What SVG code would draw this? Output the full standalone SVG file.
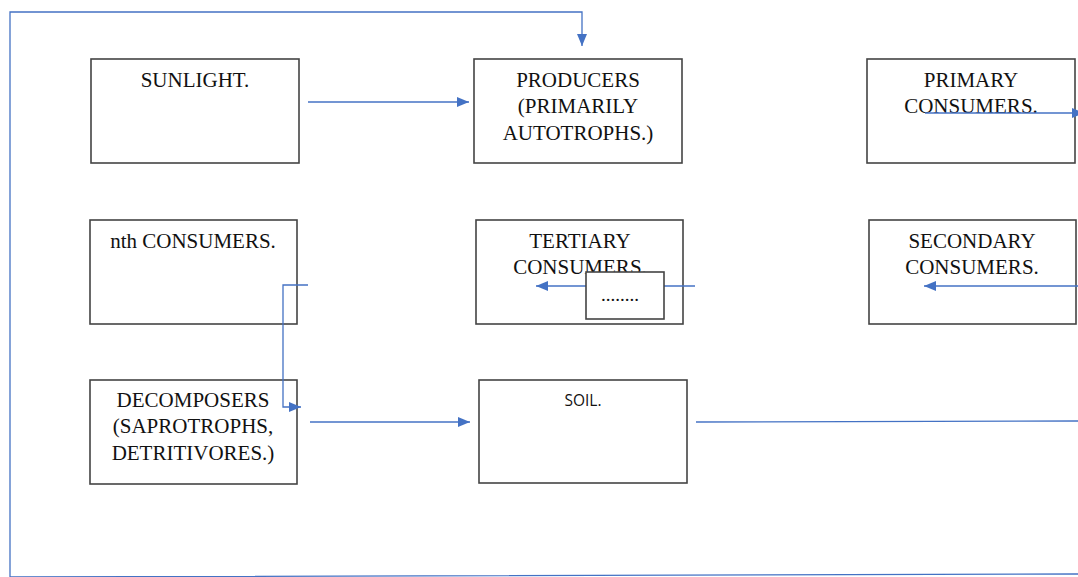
<svg xmlns="http://www.w3.org/2000/svg" width="1078" height="577" viewBox="0 0 1078 577">
<style>
.box{fill:#fff;stroke:#444;stroke-width:1.6}
.t{font-family:"Liberation Serif","Times New Roman",serif;font-size:21px;fill:#111;text-anchor:middle}
.s{font-family:"Open Sans","Liberation Sans",sans-serif;font-size:15.5px;fill:#111;text-anchor:middle}
.d{font-family:"Liberation Serif","Times New Roman",serif;font-size:19px;fill:#111;text-anchor:middle}
.c{fill:none;stroke:#4472C4;stroke-width:1.3}
</style>
<defs>
<marker id="a" markerWidth="12" markerHeight="10" refX="12" refY="5" orient="auto" markerUnits="userSpaceOnUse">
<path d="M0,0 L12,5 L0,10 Z" fill="#4472C4"/>
</marker>
</defs>
<g id="sunlight"><rect class="box" x="91" y="59" width="208" height="104"/><text class="t" x="195" y="87">SUNLIGHT.</text></g>
<g id="producers"><rect class="box" x="474" y="59" width="208" height="104"/><text class="t" x="578" y="87">PRODUCERS</text><text class="t" x="578" y="113">(PRIMARILY</text><text class="t" x="578" y="140">AUTOTROPHS.)</text></g>
<g id="primary"><rect class="box" x="867" y="59" width="208" height="104"/><text class="t" x="971" y="87">PRIMARY</text><text class="t" x="971" y="113">CONSUMERS.</text></g>
<g id="nth"><rect class="box" x="90" y="220" width="207" height="104"/><text class="t" x="193" y="248">nth CONSUMERS.</text></g>
<g id="tertiary"><rect class="box" x="476" y="220" width="207" height="104"/><text class="t" x="580" y="248">TERTIARY</text><text class="t" x="580" y="274">CONSUMERS.</text></g>
<g id="secondary"><rect class="box" x="869" y="220" width="207" height="104"/><text class="t" x="972" y="248">SECONDARY</text><text class="t" x="972" y="274">CONSUMERS.</text></g>
<g id="decomposers"><rect class="box" x="90" y="380" width="207" height="104"/><text class="t" x="193" y="407">DECOMPOSERS</text><text class="t" x="193" y="433">(SAPROTROPHS,</text><text class="t" x="193" y="460">DETRITIVORES.)</text></g>
<g id="soil"><rect class="box" x="479" y="380" width="208" height="103"/><text class="s" x="583" y="406">SOIL.</text></g>
<g id="connectors">
<path class="c" d="M308,102 H469" marker-end="url(#a)"/>
<path class="c" d="M925,113 H1084" marker-end="url(#a)"/>
<path class="c" d="M1078,286 H924" marker-end="url(#a)"/>
<path class="c" d="M695,286 H536" marker-end="url(#a)"/>
<path class="c" d="M308,285 H283 V407 H301" marker-end="url(#a)"/>
<path class="c" d="M310,422 H470" marker-end="url(#a)"/>
<path class="c" d="M696,422 L1078,421"/>
<path class="c" d="M1078,574 L10,577 V12 H582 V46" marker-end="url(#a)"/>
</g>
<g id="dots"><rect class="box" x="586" y="272" width="78" height="47"/><text class="d" x="620" y="301">........</text></g>
</svg>
